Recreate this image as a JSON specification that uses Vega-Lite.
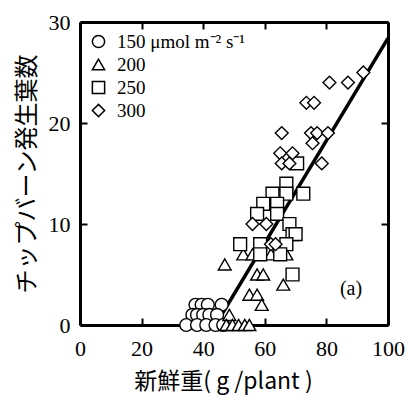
{
  "$schema": "https://vega.github.io/schema/vega-lite/v6.json",
  "width": 308,
  "height": 303,
  "autosize": "none",
  "padding": {"left": 80, "top": 22, "right": 24, "bottom": 79},
  "background": "white",
  "config": {
    "view": {"stroke": null},
    "axis": {
      "grid": false,
      "domainColor": "black",
      "domainWidth": 3,
      "tickColor": "black",
      "tickWidth": 2,
      "tickSize": -7,
      "labelFont": "'Liberation Serif', 'Times New Roman', serif",
      "labelFontSize": 22,
      "labelColor": "black",
      "titleColor": "black",
      "titleFont": "Noto Sans CJK JP",
      "titleFontWeight": "normal"
    }
  },
  "datasets": {
    "pts": [
      {"fw": 37.5, "leaves": 2, "ppfd": "150"},
      {"fw": 39.5, "leaves": 2, "ppfd": "150"},
      {"fw": 41.5, "leaves": 2, "ppfd": "150"},
      {"fw": 46, "leaves": 2, "ppfd": "150"},
      {"fw": 36.5, "leaves": 1, "ppfd": "150"},
      {"fw": 38, "leaves": 1, "ppfd": "150"},
      {"fw": 40, "leaves": 1, "ppfd": "150"},
      {"fw": 42, "leaves": 1, "ppfd": "150"},
      {"fw": 44.5, "leaves": 1, "ppfd": "150"},
      {"fw": 34.5, "leaves": 0, "ppfd": "150"},
      {"fw": 38, "leaves": 0, "ppfd": "150"},
      {"fw": 41, "leaves": 0, "ppfd": "150"},
      {"fw": 44, "leaves": 0, "ppfd": "150"},
      {"fw": 46.5, "leaves": 0, "ppfd": "150"},
      {"fw": 47, "leaves": 6, "ppfd": "200"},
      {"fw": 53, "leaves": 7, "ppfd": "200"},
      {"fw": 56, "leaves": 7, "ppfd": "200"},
      {"fw": 62, "leaves": 7, "ppfd": "200"},
      {"fw": 67, "leaves": 7, "ppfd": "200"},
      {"fw": 57.5, "leaves": 5, "ppfd": "200"},
      {"fw": 59.5, "leaves": 5, "ppfd": "200"},
      {"fw": 66, "leaves": 4, "ppfd": "200"},
      {"fw": 55, "leaves": 3, "ppfd": "200"},
      {"fw": 57.5, "leaves": 3, "ppfd": "200"},
      {"fw": 59, "leaves": 2, "ppfd": "200"},
      {"fw": 48.5, "leaves": 1, "ppfd": "200"},
      {"fw": 47.5, "leaves": 0, "ppfd": "200"},
      {"fw": 49.5, "leaves": 0, "ppfd": "200"},
      {"fw": 51.5, "leaves": 0, "ppfd": "200"},
      {"fw": 53.5, "leaves": 0, "ppfd": "200"},
      {"fw": 55, "leaves": 0, "ppfd": "200"},
      {"fw": 70.5, "leaves": 16, "ppfd": "250"},
      {"fw": 67, "leaves": 14, "ppfd": "250"},
      {"fw": 62.5, "leaves": 13, "ppfd": "250"},
      {"fw": 67, "leaves": 13, "ppfd": "250"},
      {"fw": 72.5, "leaves": 13, "ppfd": "250"},
      {"fw": 59.5, "leaves": 12, "ppfd": "250"},
      {"fw": 64, "leaves": 12, "ppfd": "250"},
      {"fw": 57.5, "leaves": 11, "ppfd": "250"},
      {"fw": 64, "leaves": 11, "ppfd": "250"},
      {"fw": 68, "leaves": 10, "ppfd": "250"},
      {"fw": 69, "leaves": 9, "ppfd": "250"},
      {"fw": 70, "leaves": 9, "ppfd": "250"},
      {"fw": 52, "leaves": 8, "ppfd": "250"},
      {"fw": 58.5, "leaves": 8, "ppfd": "250"},
      {"fw": 67, "leaves": 8, "ppfd": "250"},
      {"fw": 58.5, "leaves": 7, "ppfd": "250"},
      {"fw": 65, "leaves": 7, "ppfd": "250"},
      {"fw": 69, "leaves": 5, "ppfd": "250"},
      {"fw": 92, "leaves": 25, "ppfd": "300"},
      {"fw": 81, "leaves": 24, "ppfd": "300"},
      {"fw": 87, "leaves": 24, "ppfd": "300"},
      {"fw": 73.5, "leaves": 22, "ppfd": "300"},
      {"fw": 76, "leaves": 22, "ppfd": "300"},
      {"fw": 65.5, "leaves": 19, "ppfd": "300"},
      {"fw": 75, "leaves": 19, "ppfd": "300"},
      {"fw": 77, "leaves": 19, "ppfd": "300"},
      {"fw": 80.5, "leaves": 19, "ppfd": "300"},
      {"fw": 75.5, "leaves": 18, "ppfd": "300"},
      {"fw": 65, "leaves": 17, "ppfd": "300"},
      {"fw": 69, "leaves": 17, "ppfd": "300"},
      {"fw": 65.5, "leaves": 16, "ppfd": "300"},
      {"fw": 68, "leaves": 16, "ppfd": "300"},
      {"fw": 78.5, "leaves": 16, "ppfd": "300"},
      {"fw": 56, "leaves": 10, "ppfd": "300"},
      {"fw": 60.5, "leaves": 10, "ppfd": "300"},
      {"fw": 62, "leaves": 8, "ppfd": "300"},
      {"fw": 63.5, "leaves": 8, "ppfd": "300"}
    ],
    "fit": [
      {"fw": 44, "leaves": 0},
      {"fw": 100, "leaves": 28.4}
    ],
    "note": [
      {"fw": 88, "leaves": 3.6, "label": "(a)"}
    ]
  },
  "layer": [
    {
      "data": {"name": "fit"},
      "mark": {"type": "line", "color": "black", "strokeWidth": 3.5, "clip": true},
      "encoding": {
        "x": {"field": "fw", "type": "quantitative", "scale": {"domain": [0, 100], "nice": false}, "axis": {"orient": "bottom", "values": [0, 20, 40, 60, 80, 100], "title": "新鮮重( g /plant )", "titleFontSize": 23, "titlePadding": 11, "titleX": 143, "labelPadding": 20, "labelFlush": false}},
        "y": {"field": "leaves", "type": "quantitative", "scale": {"domain": [0, 30], "nice": false}, "axis": {"orient": "left", "values": [0, 10, 20, 30], "title": "チップバーン発生葉数", "titleFontSize": 24, "titlePadding": 9, "labelPadding": 17, "labelFlush": false}}
      }
    },
    {
      "data": {"name": "pts"},
      "mark": {"type": "point", "filled": true, "color": "white", "stroke": "black", "strokeWidth": 1.4, "opacity": 1, "size": 165},
      "encoding": {
        "x": {"field": "fw", "type": "quantitative", "axis": {"orient": "top", "values": [0, 20, 40, 60, 80, 100], "labels": false, "title": null}},
        "y": {"field": "leaves", "type": "quantitative", "axis": {"orient": "right", "values": [0, 10, 20, 30], "labels": false, "title": null}},
        "shape": {
          "field": "ppfd", "type": "nominal",
          "scale": {"domain": ["150", "200", "250", "300"], "range": ["circle", "triangle-up", "square", "diamond"]},
          "legend": {
            "title": null,
            "orient": "none",
            "legendX": 9,
            "legendY": 10,
            "padding": 0,
            "symbolSize": 150,
            "labelFont": "'Liberation Serif', 'Times New Roman', serif",
            "labelFontSize": 19,
            "labelColor": "black",
            "labelOffset": 9,
            "rowPadding": 3,
            "labelLimit": 300,
            "labelExpr": "datum.label == '150' ? '150 μmol m⁻² s⁻¹' : datum.label",
            "encode": {
              "symbols": {
                "update": {
                  "fill": {"value": "white"},
                  "stroke": {"value": "black"},
                  "strokeWidth": {"value": 1.4},
                  "opacity": {"value": 1},
                  "fillOpacity": {"value": 1},
                  "strokeOpacity": {"value": 1}
                }
              }
            }
          }
        }
      }
    },
    {
      "data": {"name": "note"},
      "mark": {"type": "text", "font": "'Liberation Serif', 'Times New Roman', serif", "fontSize": 20, "color": "black"},
      "encoding": {
        "x": {"field": "fw", "type": "quantitative", "axis": null},
        "y": {"field": "leaves", "type": "quantitative", "axis": null},
        "text": {"field": "label"}
      }
    }
  ],
  "resolve": {"axis": {"x": "independent", "y": "independent"}}
}
